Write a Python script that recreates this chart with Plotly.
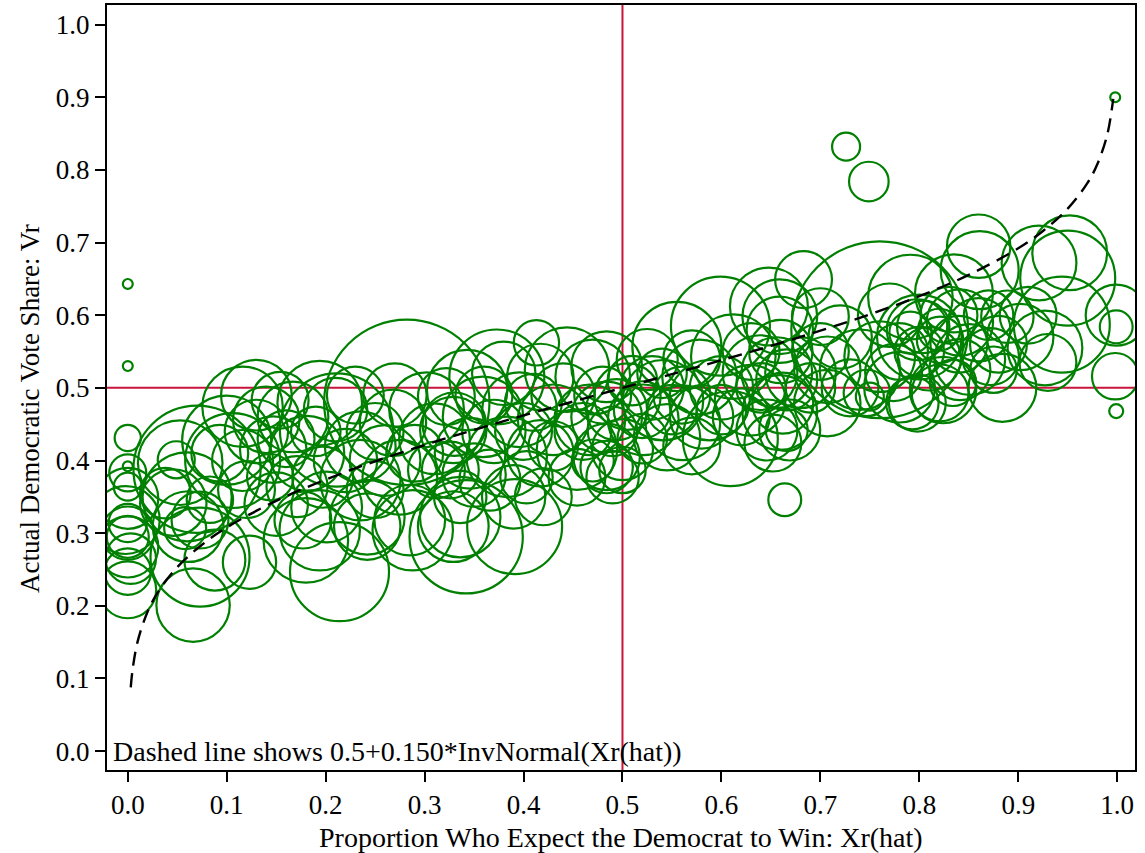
import plotly.graph_objects as go

# ---- Bubble data: expected-win proportion, actual vote share, respondents ----
x_hat = [
    # x = 0 column
    0.000, 0.000, 0.000, 0.000, 0.000, 0.000, 0.000, -0.002, 0.000, 0.000, 0.000, 0.000, 0.000, 0.000, 0.003,
    # 0.03 - 0.13
    0.053, 0.049, 0.060, 0.058, 0.061, 0.073, 0.066, 0.088, 0.123, 0.070,
    0.046, 0.073, 0.083, 0.100, 0.093, 0.116, 0.116, 0.130, 0.106, 0.038,
    # 0.13 - 0.33
    0.154, 0.147, 0.194, 0.211, 0.167, 0.140, 0.181, 0.235, 0.268, 0.302,
    0.322, 0.197, 0.235, 0.275, 0.312, 0.171, 0.144, 0.201, 0.242, 0.285,
    0.329, 0.177, 0.282, 0.180, 0.214, 0.194, 0.288, 0.242,
    0.220, 0.250, 0.260, 0.210, 0.160, 0.310, 0.270, 0.230, 0.130, 0.120,
    0.150, 0.290, 0.330, 0.190, 0.250,
    # 0.32 - 0.50
    0.413, 0.373, 0.343, 0.444, 0.470, 0.417, 0.396, 0.359, 0.329, 0.430,
    0.467, 0.494, 0.346, 0.383, 0.417, 0.454, 0.484, 0.326, 0.366, 0.403,
    0.454, 0.490, 0.336, 0.342, 0.391, 0.336,
    0.370, 0.400, 0.440, 0.480, 0.360, 0.430, 0.460, 0.390, 0.420, 0.470,
    0.490, 0.350, 0.410, 0.380,
    # 0.48 - 0.68
    0.599, 0.648, 0.659, 0.555, 0.525, 0.484, 0.612, 0.578, 0.639, 0.666,
    0.505, 0.541, 0.588, 0.629, 0.662, 0.484, 0.521, 0.561, 0.609, 0.646,
    0.666, 0.500, 0.545, 0.484, 0.500, 0.664,
    0.530, 0.560, 0.570, 0.600, 0.620, 0.550, 0.520, 0.580, 0.630, 0.510,
    0.660, 0.540, 0.600, 0.570, 0.640, 0.520,
    # 0.68 - 0.86
    0.683, 0.700, 0.659, 0.760, 0.800, 0.798, 0.841, 0.860, 0.656, 0.680,
    0.707, 0.740, 0.747, 0.750, 0.780, 0.798, 0.821, 0.841, 0.659, 0.669,
    0.652, 0.707, 0.726, 0.749, 0.791, 0.804, 0.791, 0.821, 0.861, 0.851,
    0.872, 0.760, 0.774, 0.834, 0.824, 0.793,
    0.700, 0.720, 0.690, 0.730, 0.780, 0.810, 0.830, 0.770, 0.820, 0.800,
    0.840, 0.835,
    # 0.86 - 1.00
    0.889, 0.902, 0.884, 0.927, 0.944, 0.921, 0.952, 0.950, 0.999, 0.999,
    0.998, 0.999, 0.998, 0.875, 0.930, 0.880, 0.870, 0.910, 0.860,
]

vote_share = [
    0.643, 0.530, 0.431, 0.392, 0.383, 0.364, 0.348, 0.318, 0.314, 0.295, 0.281, 0.300, 0.247, 0.222, 0.265,
    0.397, 0.401, 0.350, 0.307, 0.309, 0.267, 0.201, 0.263, 0.260, 0.388,
    0.342, 0.318, 0.346, 0.428, 0.410, 0.400, 0.474, 0.490, 0.400, 0.355,
    0.483, 0.415, 0.479, 0.442, 0.460, 0.456, 0.410, 0.419, 0.452, 0.470,
    0.488, 0.377, 0.373, 0.377, 0.387, 0.364, 0.377, 0.336, 0.322, 0.318,
    0.309, 0.318, 0.480, 0.290, 0.247, 0.304, 0.304, 0.309,
    0.400, 0.440, 0.400, 0.470, 0.430, 0.430, 0.490, 0.490, 0.440, 0.360,
    0.340, 0.410, 0.450, 0.440, 0.360,
    0.562, 0.515, 0.497, 0.525, 0.515, 0.515, 0.470, 0.460, 0.442, 0.456,
    0.456, 0.470, 0.410, 0.405, 0.410, 0.415, 0.405, 0.387, 0.373, 0.377,
    0.377, 0.377, 0.350, 0.295, 0.309, 0.322,
    0.440, 0.440, 0.490, 0.490, 0.490, 0.420, 0.440, 0.350, 0.350, 0.400,
    0.440, 0.380, 0.480, 0.520,
    0.585, 0.612, 0.580, 0.557, 0.539, 0.529, 0.543, 0.515, 0.521, 0.511,
    0.488, 0.483, 0.483, 0.483, 0.479, 0.460, 0.456, 0.452, 0.430, 0.442,
    0.442, 0.415, 0.432, 0.391, 0.387, 0.346,
    0.500, 0.490, 0.540, 0.500, 0.460, 0.470, 0.470, 0.460, 0.550, 0.510,
    0.550, 0.520, 0.470, 0.420, 0.500, 0.430,
    0.649, 0.598, 0.598, 0.580, 0.570, 0.580, 0.590, 0.695, 0.521, 0.521,
    0.525, 0.525, 0.493, 0.488, 0.501, 0.479, 0.493, 0.525, 0.466, 0.442,
    0.424, 0.479, 0.832, 0.784, 0.625, 0.584, 0.576, 0.566, 0.662, 0.539,
    0.543, 0.543, 0.521, 0.507, 0.497, 0.479,
    0.550, 0.570, 0.500, 0.500, 0.550, 0.540, 0.600, 0.600, 0.580, 0.550,
    0.560, 0.630,
    0.598, 0.570, 0.500, 0.555, 0.587, 0.672, 0.686, 0.651, 0.600, 0.584,
    0.516, 0.468, 0.900, 0.525, 0.535, 0.560, 0.600, 0.600, 0.580,
]

respondents = [
    1, 1, 7, 1, 14, 8, 38, 47, 15, 18, 38, 29, 22, 33, 26,
    73, 14, 81, 18, 51, 100, 55, 38, 29, 165,
    45, 33, 22, 81, 33, 38, 66, 51, 92, 26,
    33, 45, 73, 131, 51, 45, 57, 51, 45, 57,
    33, 38, 66, 57, 33, 38, 22, 51, 57, 51,
    51, 33, 279, 73, 100, 66, 66, 45,
    41, 33, 51, 41, 33, 51, 41, 33, 41, 33,
    41, 33, 41, 25, 33,
    21, 92, 66, 73, 57, 45, 57, 66, 45, 51,
    51, 38, 51, 66, 45, 66, 45, 33, 38, 28,
    33, 28, 28, 131, 92, 66,
    41, 33, 41, 33, 33, 25, 33, 41, 33, 18,
    25, 41, 33, 41,
    100, 62, 45, 81, 38, 51, 73, 57, 57, 38,
    45, 66, 66, 51, 38, 51, 51, 57, 92, 38,
    18, 38, 45, 28, 22, 11,
    41, 33, 33, 41, 33, 25, 33, 41, 33, 25,
    41, 25, 25, 33, 25, 25,
    33, 33, 57, 319, 73, 38, 45, 41, 51, 51,
    45, 66, 22, 8, 51, 33, 33, 38, 57, 38,
    33, 45, 8, 16, 73, 28, 18, 22, 62, 51,
    33, 51, 33, 22, 45, 28,
    33, 41, 25, 33, 33, 41, 33, 41, 18, 25,
    33, 62,
    28, 45, 47, 57, 94, 57, 57, 92, 38, 11,
    22, 2, 1, 22, 33, 33, 25, 33, 41,
]

# ---- Reference curve: 0.5 + 0.150*InvNormal(Xr(hat)), tabulated ----
curve_x = [0.003, 0.005, 0.01, 0.02, 0.03, 0.05, 0.075, 0.1, 0.15, 0.2, 0.25, 0.3, 0.35, 0.4, 0.45,
           0.5, 0.55, 0.6, 0.65, 0.7, 0.75, 0.8, 0.85, 0.9, 0.925, 0.95, 0.97, 0.98, 0.99, 0.996]
curve_y = [0.0878, 0.1136, 0.1511, 0.1919, 0.2179, 0.2533, 0.2840, 0.3078, 0.3445, 0.3738, 0.3988,
           0.4213, 0.4422, 0.4620, 0.4811, 0.5, 0.5189, 0.5380, 0.5578, 0.5787, 0.6012, 0.6262,
           0.6555, 0.6922, 0.7160, 0.7467, 0.7821, 0.8081, 0.8489, 0.8978]

tick_vals = [0.0, 0.1, 0.2, 0.3, 0.4, 0.5, 0.6, 0.7, 0.8, 0.9, 1.0]
tick_text = ["0.0", "0.1", "0.2", "0.3", "0.4", "0.5", "0.6", "0.7", "0.8", "0.9", "1.0"]

FONT = "Liberation Serif, Times New Roman, serif"
GREEN = "#008000"
RED = "#C8143C"

fig = go.Figure()
fig.add_trace(go.Scatter(
    x=x_hat, y=vote_share, mode="markers",
    marker=dict(symbol="circle-open", size=respondents, sizemode="area", opacity=1,
                sizeref=1 / 49, sizemin=1, color=GREEN, line=dict(width=2.2, color=GREEN)),
    hoverinfo="x+y", showlegend=False,
))
fig.add_trace(go.Scatter(
    x=curve_x, y=curve_y, mode="lines",
    line=dict(color="black", width=2.4, dash="14px,8px", shape="spline"),
    showlegend=False, hoverinfo="skip",
))

fig.add_shape(type="line", xref="x", yref="paper", x0=0.5, x1=0.5, y0=0, y1=1,
              line=dict(color=RED, width=2), layer="below")
fig.add_shape(type="line", xref="paper", yref="y", x0=0, x1=1, y0=0.5, y1=0.5,
              line=dict(color=RED, width=2), layer="below")

fig.add_annotation(xref="paper", yref="y", x=0.004, y=0.0, xanchor="left", yanchor="middle",
                   text="Dashed line shows 0.5+0.150*InvNormal(Xr(hat))", showarrow=False,
                   font=dict(family=FONT, size=28, color="black"))

# axis titles placed explicitly
fig.add_annotation(xref="paper", yref="paper", x=0.5, y=-0.0876, xanchor="center", yanchor="middle",
                   text="Proportion Who Expect the Democrat to Win: Xr(hat)", showarrow=False,
                   font=dict(family=FONT, size=28, color="black"))
fig.add_annotation(xref="paper", yref="paper", x=-0.075, y=0.473, xanchor="center", yanchor="middle",
                   textangle=-90, text="Actual Democratic Vote Share: Vr", showarrow=False,
                   font=dict(family=FONT, size=27, color="black"))

axis_common = dict(
    tickvals=tick_vals, ticktext=tick_text, ticks="outside", ticklen=10, tickwidth=1.5,
    tickcolor="black", showline=True, linecolor="black", linewidth=2, mirror=True,
    showgrid=False, zeroline=False, tickfont=dict(family=FONT, size=27, color="black"),
)

fig.update_layout(
    width=1145, height=853,
    margin=dict(l=107, r=10, t=5, b=83),
    paper_bgcolor="white", plot_bgcolor="white",
    font=dict(family=FONT, color="black"),
    xaxis=dict(range=[-0.021, 1.018], automargin=False, ticklabelstandoff=0, **axis_common),
    yaxis=dict(range=[-0.026, 1.027], automargin=False, **axis_common),
)

fig.write_html("out.html", post_script="document.body.style.margin='0';",
               config={"displayModeBar": False})
